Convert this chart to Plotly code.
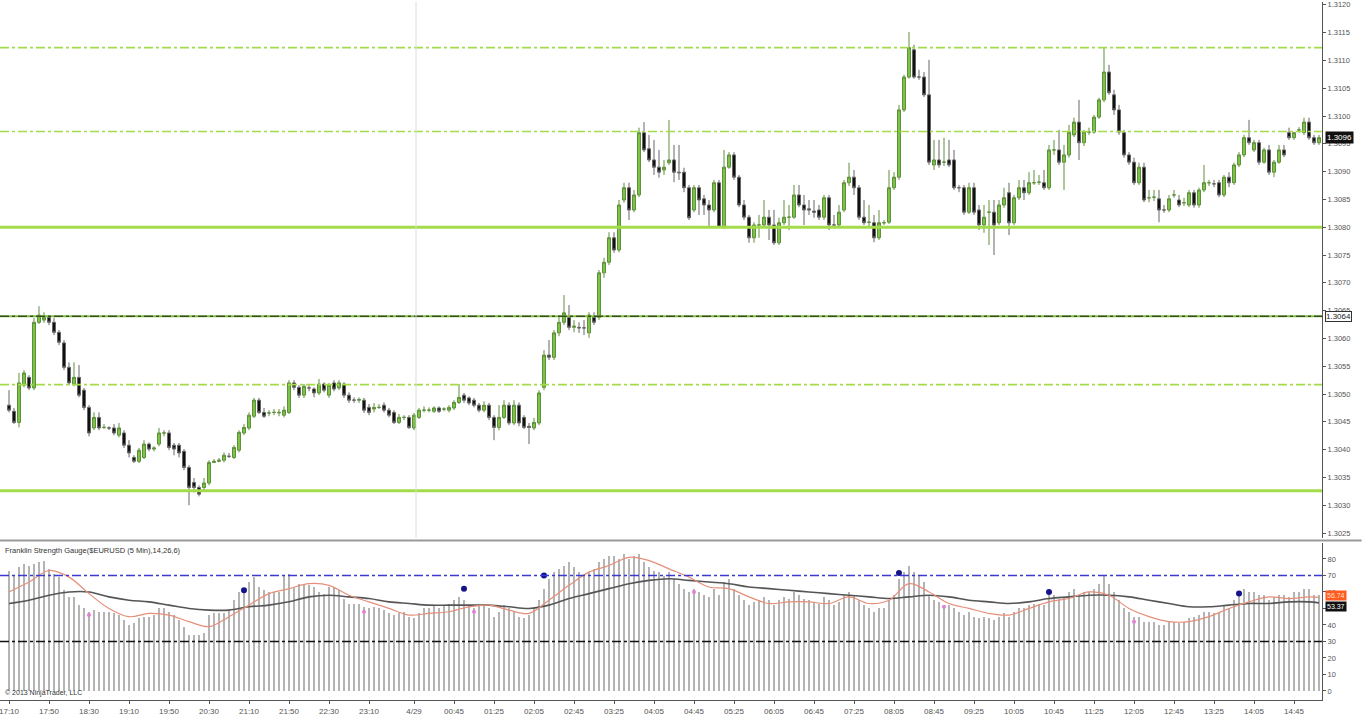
import plotly.graph_objects as go

# ---------------- price data (5-min EURUSD bars) ----------------
opens = [
1.30480,1.30469,1.30449,1.30516,1.30530,1.30511,1.30629,1.30633,1.30638,1.30629,
1.30611,1.30592,1.30548,1.30518,1.30530,1.30507,1.30476,1.30439,1.30458,1.30440,
1.30439,1.30439,1.30426,1.30430,1.30408,1.30386,1.30379,1.30386,1.30410,1.30401,
1.30410,1.30430,1.30430,1.30408,1.30408,1.30397,1.30368,1.30341,1.30332,1.30332,
1.30340,1.30377,1.30379,1.30381,1.30388,1.30386,1.30399,1.30430,1.30439,1.30460,
1.30489,1.30467,1.30466,1.30467,1.30466,1.30462,1.30467,1.30520,1.30512,1.30498,
1.30511,1.30509,1.30502,1.30518,1.30498,1.30520,1.30511,1.30518,1.30498,1.30489,
1.30489,1.30489,1.30476,1.30473,1.30476,1.30480,1.30471,1.30467,1.30449,1.30458,
1.30458,1.30439,1.30458,1.30471,1.30471,1.30469,1.30475,1.30473,1.30471,1.30475,
1.30485,1.30498,1.30493,1.30489,1.30480,1.30471,1.30480,1.30458,1.30440,1.30458,
1.30480,1.30448,1.30480,1.30458,1.30442,1.30439,1.30448,1.30512,1.30570,1.30566,
1.30610,1.30629,1.30638,1.30620,1.30620,1.30619,1.30610,1.30638,1.30638,1.30718,
1.30737,1.30781,1.30759,1.30849,1.30871,1.30831,1.30858,1.30970,1.30941,1.30921,
1.30908,1.30903,1.30916,1.30921,1.30899,1.30899,1.30871,1.30831,1.30871,1.30851,
1.30840,1.30831,1.30880,1.30800,1.30908,1.30930,1.30890,1.30840,1.30818,1.30781,
1.30804,1.30804,1.30818,1.30804,1.30772,1.30808,1.30818,1.30818,1.30858,1.30840,
1.30833,1.30829,1.30831,1.30818,1.30853,1.30804,1.30804,1.30831,1.30880,1.30890,
1.30871,1.30818,1.30809,1.30808,1.30781,1.30808,1.30809,1.30871,1.30890,1.31011,
1.31070,1.31119,1.31070,1.31070,1.31038,1.30912,1.30921,1.30917,1.30921,1.30921,
1.30871,1.30871,1.30827,1.30871,1.30831,1.30804,1.30827,1.30827,1.30808,1.30840,
1.30862,1.30808,1.30853,1.30871,1.30862,1.30880,1.30881,1.30880,1.30871,1.30939,
1.30939,1.30917,1.30930,1.30966,1.30989,1.30952,1.30971,1.30971,1.30998,1.31029,
1.31079,1.31038,1.31011,1.30970,1.30930,1.30917,1.30880,1.30908,1.30853,1.30854,
1.30851,1.30831,1.30831,1.30858,1.30849,1.30844,1.30840,1.30862,1.30840,1.30867,
1.30880,1.30878,1.30880,1.30858,1.30890,1.30880,1.30912,1.30930,1.30961,1.30939,
1.30952,1.30917,1.30939,1.30899,1.30917,1.30939,1.30970,1.30961,1.30975,1.30970,
1.30989,1.30961,1.30952]
highs = [
1.30507,1.30475,1.30538,1.30543,1.30534,1.30637,1.30658,1.30647,1.30642,1.30637,
1.30615,1.30597,1.30557,1.30557,1.30552,1.30511,1.30480,1.30467,1.30467,1.30446,
1.30442,1.30446,1.30448,1.30435,1.30417,1.30390,1.30403,1.30417,1.30413,1.30406,
1.30439,1.30435,1.30435,1.30412,1.30412,1.30401,1.30372,1.30349,1.30336,1.30349,
1.30381,1.30383,1.30385,1.30395,1.30394,1.30408,1.30435,1.30446,1.30467,1.30493,
1.30493,1.30475,1.30471,1.30473,1.30473,1.30478,1.30525,1.30525,1.30516,1.30518,
1.30516,1.30512,1.30527,1.30521,1.30520,1.30525,1.30525,1.30521,1.30503,1.30494,
1.30494,1.30493,1.30482,1.30484,1.30482,1.30485,1.30475,1.30471,1.30464,1.30462,
1.30462,1.30466,1.30475,1.30478,1.30476,1.30478,1.30478,1.30476,1.30480,1.30489,
1.30518,1.30502,1.30496,1.30493,1.30484,1.30487,1.30484,1.30462,1.30480,1.30489,
1.30485,1.30489,1.30485,1.30462,1.30448,1.30457,1.30507,1.30579,1.30597,1.30615,
1.30642,1.30678,1.30660,1.30633,1.30629,1.30633,1.30647,1.30647,1.30723,1.30745,
1.30791,1.30791,1.30849,1.30880,1.30880,1.30867,1.30979,1.30989,1.30966,1.30957,
1.30939,1.30921,1.30993,1.30948,1.30948,1.30907,1.30876,1.30876,1.30876,1.30858,
1.30849,1.30885,1.30885,1.30939,1.30935,1.30935,1.30894,1.30849,1.30822,1.30809,
1.30822,1.30849,1.30831,1.30831,1.30817,1.30849,1.30840,1.30876,1.30876,1.30858,
1.30849,1.30849,1.30840,1.30858,1.30858,1.30822,1.30840,1.30885,1.30916,1.30903,
1.30876,1.30849,1.30840,1.30822,1.30831,1.30813,1.30903,1.30899,1.31020,1.31074,
1.31151,1.31128,1.31083,1.31079,1.31101,1.30957,1.30957,1.30961,1.30957,1.30939,
1.30876,1.30876,1.30880,1.30880,1.30840,1.30840,1.30849,1.30849,1.30849,1.30871,
1.30880,1.30858,1.30885,1.30885,1.30899,1.30903,1.30894,1.30903,1.30948,1.30957,
1.30975,1.30948,1.30984,1.30997,1.31029,1.30975,1.30979,1.31002,1.31033,1.31123,
1.31092,1.31047,1.31020,1.30975,1.30935,1.30925,1.30916,1.30916,1.30867,1.30867,
1.30867,1.30840,1.30858,1.30867,1.30858,1.30853,1.30867,1.30867,1.30871,1.30912,
1.30885,1.30885,1.30885,1.30894,1.30899,1.30916,1.30935,1.30966,1.30993,1.30957,
1.30957,1.30943,1.30948,1.30921,1.30948,1.30948,1.30979,1.30971,1.30980,1.30997,
1.30997,1.30966,1.30966]
lows = [
1.30467,1.30446,1.30440,1.30512,1.30507,1.30507,1.30626,1.30628,1.30624,1.30606,
1.30588,1.30543,1.30516,1.30514,1.30494,1.30471,1.30424,1.30435,1.30435,1.30437,
1.30435,1.30426,1.30422,1.30403,1.30386,1.30376,1.30376,1.30383,1.30397,1.30397,
1.30406,1.30424,1.30399,1.30390,1.30386,1.30363,1.30300,1.30323,1.30316,1.30327,
1.30336,1.30376,1.30377,1.30377,1.30385,1.30383,1.30395,1.30426,1.30435,1.30457,
1.30464,1.30457,1.30460,1.30462,1.30460,1.30458,1.30464,1.30507,1.30493,1.30493,
1.30505,1.30494,1.30498,1.30503,1.30493,1.30505,1.30507,1.30493,1.30484,1.30484,
1.30484,1.30466,1.30462,1.30467,1.30473,1.30467,1.30458,1.30446,1.30446,1.30453,
1.30437,1.30435,1.30455,1.30467,1.30467,1.30466,1.30466,1.30469,1.30467,1.30471,
1.30482,1.30484,1.30480,1.30476,1.30467,1.30467,1.30453,1.30417,1.30435,1.30455,
1.30444,1.30444,1.30442,1.30437,1.30410,1.30435,1.30444,1.30507,1.30561,1.30561,
1.30604,1.30624,1.30615,1.30611,1.30610,1.30606,1.30601,1.30624,1.30633,1.30709,
1.30732,1.30754,1.30755,1.30844,1.30813,1.30827,1.30854,1.30935,1.30917,1.30894,
1.30889,1.30894,1.30912,1.30881,1.30885,1.30863,1.30813,1.30827,1.30822,1.30822,
1.30799,1.30827,1.30799,1.30797,1.30905,1.30885,1.30836,1.30813,1.30772,1.30772,
1.30781,1.30800,1.30777,1.30768,1.30768,1.30804,1.30795,1.30815,1.30836,1.30804,
1.30822,1.30817,1.30813,1.30813,1.30795,1.30799,1.30800,1.30827,1.30874,1.30858,
1.30813,1.30804,1.30800,1.30773,1.30777,1.30804,1.30806,1.30867,1.30885,1.31007,
1.31067,1.31067,1.31065,1.31034,1.30912,1.30903,1.30907,1.30910,1.30908,1.30867,
1.30863,1.30822,1.30824,1.30822,1.30795,1.30790,1.30768,1.30750,1.30804,1.30835,
1.30786,1.30804,1.30849,1.30849,1.30858,1.30876,1.30876,1.30867,1.30867,1.30930,
1.30912,1.30867,1.30925,1.30962,1.30921,1.30946,1.30966,1.30968,1.30995,1.31025,
1.31038,1.31002,1.30966,1.30925,1.30912,1.30876,1.30876,1.30845,1.30845,1.30847,
1.30809,1.30826,1.30827,1.30853,1.30836,1.30838,1.30836,1.30835,1.30835,1.30863,
1.30874,1.30872,1.30854,1.30854,1.30872,1.30876,1.30908,1.30926,1.30948,1.30935,
1.30912,1.30914,1.30894,1.30890,1.30914,1.30926,1.30957,1.30957,1.30970,1.30966,
1.30957,1.30948,1.30948]
closes = [
1.30471,1.30449,1.30520,1.30538,1.30511,1.30629,1.30642,1.30638,1.30629,1.30611,
1.30593,1.30548,1.30520,1.30530,1.30498,1.30476,1.30430,1.30458,1.30439,1.30440,
1.30439,1.30430,1.30439,1.30408,1.30394,1.30379,1.30399,1.30410,1.30401,1.30403,
1.30430,1.30430,1.30404,1.30401,1.30394,1.30368,1.30332,1.30332,1.30320,1.30340,
1.30377,1.30379,1.30381,1.30390,1.30388,1.30404,1.30431,1.30440,1.30462,1.30489,
1.30467,1.30460,1.30466,1.30467,1.30467,1.30471,1.30520,1.30512,1.30498,1.30514,
1.30511,1.30502,1.30518,1.30507,1.30516,1.30509,1.30520,1.30498,1.30489,1.30489,
1.30490,1.30471,1.30467,1.30476,1.30476,1.30471,1.30462,1.30449,1.30458,1.30458,
1.30440,1.30462,1.30471,1.30471,1.30471,1.30475,1.30469,1.30473,1.30476,1.30485,
1.30494,1.30489,1.30484,1.30480,1.30471,1.30480,1.30458,1.30440,1.30458,1.30480,
1.30448,1.30480,1.30448,1.30440,1.30440,1.30449,1.30502,1.30570,1.30566,1.30610,
1.30629,1.30646,1.30620,1.30622,1.30619,1.30619,1.30642,1.30629,1.30718,1.30737,
1.30781,1.30759,1.30840,1.30871,1.30831,1.30858,1.30970,1.30939,1.30921,1.30908,
1.30899,1.30908,1.30921,1.30899,1.30898,1.30871,1.30817,1.30871,1.30849,1.30840,
1.30831,1.30880,1.30800,1.30908,1.30930,1.30890,1.30840,1.30818,1.30781,1.30804,
1.30804,1.30818,1.30804,1.30772,1.30808,1.30818,1.30818,1.30858,1.30840,1.30831,
1.30831,1.30827,1.30818,1.30853,1.30804,1.30804,1.30827,1.30880,1.30890,1.30871,
1.30818,1.30808,1.30809,1.30781,1.30808,1.30808,1.30871,1.30890,1.31011,1.31070,
1.31123,1.31070,1.31070,1.31038,1.30917,1.30921,1.30912,1.30917,1.30912,1.30871,
1.30871,1.30827,1.30871,1.30827,1.30804,1.30818,1.30827,1.30804,1.30840,1.30853,
1.30808,1.30853,1.30871,1.30862,1.30880,1.30880,1.30881,1.30871,1.30939,1.30939,
1.30917,1.30930,1.30971,1.30989,1.30952,1.30971,1.30971,1.30998,1.31029,1.31079,
1.31042,1.31011,1.30971,1.30930,1.30917,1.30880,1.30908,1.30849,1.30853,1.30854,
1.30831,1.30831,1.30851,1.30858,1.30840,1.30844,1.30862,1.30840,1.30867,1.30880,
1.30880,1.30878,1.30858,1.30890,1.30880,1.30912,1.30930,1.30961,1.30952,1.30952,
1.30917,1.30939,1.30899,1.30917,1.30939,1.30930,1.30961,1.30970,1.30975,1.30989,
1.30961,1.30952,1.30961]

# support / resistance levels drawn on the price panel
levels = [1.31123, 1.30972, 1.30800, 1.30640, 1.30517, 1.30326]
level_styles = ["dashdot", "dashdot", "solid", "marked", "dashdot", "solid"]
price_ticks = [1.3025, 1.3030, 1.3035, 1.3040, 1.3045, 1.3050, 1.3055, 1.3060, 1.3065, 1.3070,
               1.3075, 1.3080, 1.3085, 1.3090, 1.3095, 1.3100, 1.3105, 1.3110, 1.3115, 1.3120]

# time axis labels (bar number where each label sits)
tick_bars = [0, 8, 16, 24, 32, 40, 48, 56, 64, 72, 81, 89, 97, 105, 113, 121, 129, 137, 145,
             153, 161, 169, 177, 185, 193, 201, 209, 217, 225, 233, 241, 249, 257]
tick_labels = ["17:10", "17:50", "18:30", "19:10", "19:50", "20:30", "21:10", "21:50", "22:30",
               "23:10", "4/29", "00:45", "01:25", "02:05", "02:45", "03:25", "04:05", "04:45",
               "05:25", "06:05", "06:45", "07:25", "08:05", "08:45", "09:25", "10:05", "10:45",
               "11:25", "12:05", "12:45", "13:25", "14:05", "14:45"]
session_break_bar = 81.4

# ---------------- Franklin Strength Gauge ----------------
gauge_hist = [
73,70,75,77,76,77,78,79,74,71, 69,61,57,57,52,50,48,49,48,48,
48,47,46,43,40,41,44,45,45,46, 50,50,48,46,43,39,34,34,34,35,
46,47,47,47,49,55,60,62,66,69, 63,61,60,60,60,70,71,63,65,65,
64,63,60,59,63,63,61,56,53,53, 53,51,50,51,50,49,47,46,47,
48,45,44,47,50,50,52,50,52,53, 55,57,55,52,50,52,53,50,45,48, 52,50,48,45,44,46,
50,55,62,68,72,74,76,78,75,72, 70,72,74,78,80,82,82,80,83,80, 82,83,
78,75,73,72,70,72,68,65,62,60, 62,60,58,57,
62,58,66,68,62,58,55,52,54,55, 57,55,52,55,57,56,60,58,56,
55,54,53,57,55,52,54,58,60,58, 55,52,50,48,50,50,55,58,
68,72,76,72,70,66,58,
55,54,52,52,50,48,46,48,45,44, 45,44,43,45,47,45,48,50,50,52, 53,53,52,
58,58,56,57,60,62,58,60,60,62, 65,70,65,60,55,
50,48,45,45,42,42,42,40,40,42, 42,41,42,44,45,46,48,48,47,
47,52,50,55,58,62,60,60,58,58, 55,57,58,58,57,60,60,62,62,58, 58]

# smoothed lines, read every 4th bar (plus the last bar)
fast_line = [60,66,73,69,59,50,45,47,46,42, 39,45,52,59,62,65,64,58,54,50,
             46,47,48,51,52,49,47,55,64,72, 76,81,79,74,69,63,62,57,53,54,
             54,53,57,53,55,65,60,53,50,47, 46,50,54,56,60,58,50,45,42,42,
             45,50,54,57,56,57, 56.74]
slow_line = [53,55,58,60,60,57,55,54,52,50, 49,49,51,52,54,57,58,57,56,54,
             53,52,52,52,52,51,50,52,56,59, 62,65,67,68,67,66,65,63,62,61,
             60,59,58,57,56,57,58,57,55,54, 53,54,56,57,58,58,57,55,53,51,
             51,52,53,53,54,54, 53.37]

blue_dot_bars = [47, 91, 107, 178, 208, 246]
blue_dot_vals = [61, 62, 70, 71.5, 60, 59]
pink_dot_bars = [16, 71, 93, 137, 187, 225]
pink_dot_vals = [46, 48, 48, 60, 51, 42]
gauge_levels = [70, 30]
gauge_ticks = [0, 10, 20, 30, 40, 50, 60, 70, 80]

# ---------------- figure ----------------
n = len(closes)
bars = list(range(n))
line_bars = list(range(0, n - 2, 4)) + [n - 1]

GREEN = "#a3db4a"
fig = go.Figure()

fig.add_trace(go.Candlestick(
    x=bars, open=opens, high=highs, low=lows, close=closes,
    increasing=dict(fillcolor="#7cc444", line=dict(color="#5f8f3c", width=1)),
    decreasing=dict(fillcolor="#111111", line=dict(color="#666666", width=1)),
    whiskerwidth=0, xaxis="x", yaxis="y", showlegend=False))

fig.add_trace(go.Bar(x=bars, y=gauge_hist, width=0.3, marker=dict(color="#b4b4b4", line=dict(width=0)),
                     xaxis="x2", yaxis="y2", showlegend=False))
fig.add_trace(go.Scatter(x=line_bars, y=slow_line, mode="lines", line=dict(color="#555555", width=1.6, shape="spline"),
                         xaxis="x2", yaxis="y2", showlegend=False))
fig.add_trace(go.Scatter(x=line_bars, y=fast_line, mode="lines", line=dict(color="#e58f7a", width=1.2, shape="spline"),
                         xaxis="x2", yaxis="y2", showlegend=False))
fig.add_trace(go.Scatter(x=blue_dot_bars, y=blue_dot_vals, mode="markers", marker=dict(color="#14148a", size=6),
                         xaxis="x2", yaxis="y2", showlegend=False))
fig.add_trace(go.Scatter(x=pink_dot_bars, y=pink_dot_vals, mode="markers", marker=dict(color="#e27fd6", size=4),
                         xaxis="x2", yaxis="y2", showlegend=False))

shapes = []
for lv, st in zip(levels, level_styles):
    if st == "dashdot":
        shapes.append(dict(type="line", xref="paper", x0=0, x1=1, yref="y", y0=lv, y1=lv,
                           line=dict(color=GREEN, width=1.6, dash="dashdot")))
    elif st == "solid":
        shapes.append(dict(type="line", xref="paper", x0=0, x1=1, yref="y", y0=lv, y1=lv,
                           line=dict(color=GREEN, width=3)))
    else:
        shapes.append(dict(type="line", xref="paper", x0=0, x1=1, yref="y", y0=lv, y1=lv,
                           line=dict(color="#7fbf3f", width=2)))
        shapes.append(dict(type="line", xref="paper", x0=0, x1=1, yref="y", y0=lv, y1=lv,
                           line=dict(color="#1a1a1a", width=1, dash="dashdot")))
shapes.append(dict(type="line", xref="paper", x0=0, x1=1, yref="y2", y0=gauge_levels[0], y1=gauge_levels[0],
                   line=dict(color="#3a3ad0", width=1.6, dash="dashdot")))
shapes.append(dict(type="line", xref="paper", x0=0, x1=1, yref="y2", y0=gauge_levels[1], y1=gauge_levels[1],
                   line=dict(color="#111111", width=1.6, dash="dashdot")))
shapes.append(dict(type="line", xref="x", x0=session_break_bar, x1=session_break_bar, yref="paper", y0=0.232, y1=1,
                   line=dict(color="#dcdcdc", width=1)))
shapes.append(dict(type="line", xref="paper", x0=0, x1=1.03, yref="paper", y0=0.2285, y1=0.2285,
                   line=dict(color="#9a9a9a", width=2)))

annotations = [
    dict(xref="paper", x=1.0, xanchor="left", xshift=3, yref="y", y=closes[-1],
         text=f"{closes[-1]:.4f}", showarrow=False, bgcolor="#111111",
         font=dict(color="white", size=8), borderpad=1),
    dict(xref="paper", x=1.0, xanchor="left", xshift=3, yref="y", y=levels[3],
         text=f"{levels[3]:.4f}", showarrow=False, bgcolor="white", bordercolor="#333333",
         borderwidth=1, font=dict(color="#222222", size=8), borderpad=0),
    dict(xref="paper", x=1.0, xanchor="left", xshift=3, yref="y2", y=fast_line[-1] + 1,
         text=f"{fast_line[-1]:.2f}", showarrow=False, bgcolor="#ff5a1f",
         font=dict(color="#ffe0d0", size=7), borderpad=1),
    dict(xref="paper", x=1.0, xanchor="left", xshift=3, yref="y2", y=slow_line[-1] - 2,
         text=f"{slow_line[-1]:.2f}", showarrow=False, bgcolor="#111111",
         font=dict(color="white", size=7), borderpad=1),
    dict(xref="paper", x=0.002, xanchor="left", yref="paper", y=0.224, yanchor="top",
         text="Franklin Strength Gauge($EURUSD (5 Min),14,26,6)", showarrow=False,
         font=dict(color="#333333", size=7.5)),
    dict(xref="paper", x=0.002, xanchor="left", yref="paper", y=0.002, yanchor="bottom",
         text="© 2013 NinjaTrader, LLC", showarrow=False, font=dict(color="#333333", size=7)),
]

xr = [-1.8, 262.6]
fig.update_layout(
    width=1362, height=720, margin=dict(l=0, r=40, t=2, b=20, autoexpand=False),
    paper_bgcolor="white", plot_bgcolor="white", showlegend=False, bargap=0, boxgap=0.15,
    font=dict(family="Liberation Sans, Arial, sans-serif", size=8, color="#555555"),
    xaxis=dict(domain=[0, 1], range=xr, anchor="y", showticklabels=False, showgrid=False,
               zeroline=False, rangeslider=dict(visible=False), showline=False, automargin=False),
    xaxis2=dict(domain=[0, 1], range=xr, anchor="y2", tickmode="array", tickvals=tick_bars,
                ticktext=tick_labels, ticks="outside", ticklen=3, tickcolor="#555555",
                showline=True, linecolor="#555555", showgrid=False, zeroline=False,
                automargin=False, ticklabeloverflow="allow",
                tickfont=dict(size=8, color="#555555")),
    yaxis=dict(domain=[0.232, 1], range=[1.30241, 1.31205], anchor="x", side="right",
               tickmode="array", tickvals=price_ticks, tickformat=".4f", ticks="outside",
               ticklen=3, tickcolor="#555555", showline=True, linecolor="#555555",
               showgrid=False, zeroline=False, automargin=False, ticklabeloverflow="allow",
               tickfont=dict(size=7.5, color="#555555")),
    yaxis2=dict(domain=[0, 0.225], range=[-5.5, 89.7], anchor="x2", side="right",
                tickmode="array", tickvals=gauge_ticks, ticks="outside", ticklen=3,
                tickcolor="#555555", showline=True, linecolor="#555555", showgrid=False,
                zeroline=False, automargin=False, tickfont=dict(size=7.5, color="#555555")),
    shapes=shapes, annotations=annotations,
)

fig.write_html("out.html", config={"displayModeBar": False},
               post_script="document.body.style.margin='0';document.body.style.overflow='hidden';")
